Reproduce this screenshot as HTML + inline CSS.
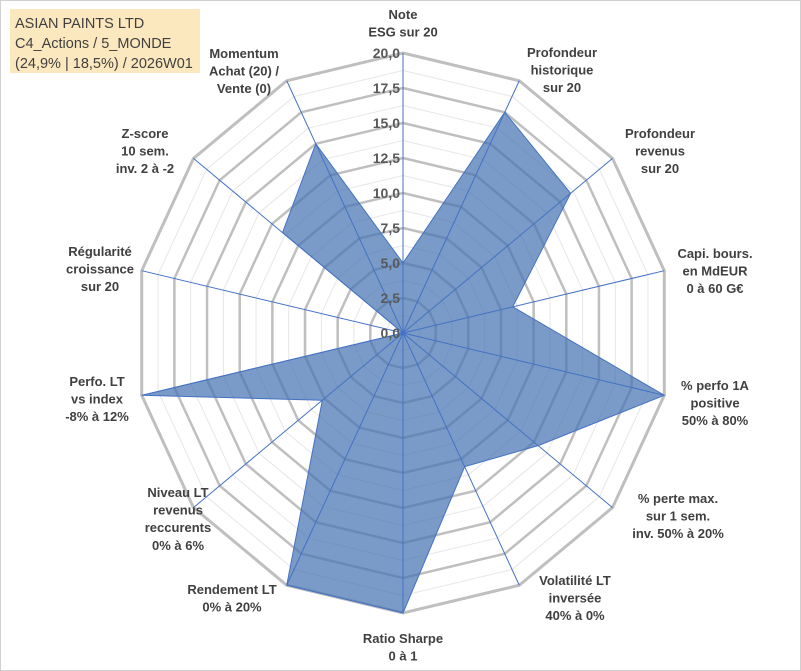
<!DOCTYPE html>
<html><head><meta charset="utf-8"><style>
body{margin:0;background:#fff}
svg{display:block;font-family:"Liberation Sans",sans-serif}
.lab{font-weight:bold;font-size:13px;fill:#404040;text-anchor:middle}
.tick{font-weight:bold;font-size:14px;fill:#595959;text-anchor:end}
</style></head><body>
<svg width="801" height="671">
<rect x="0.5" y="0.5" width="800" height="670" fill="#fff" stroke="#d0d0d0"/>
<rect x="10" y="9" width="190" height="64" fill="#fce8bf"/>
<text x="15" y="28" font-size="14.5" fill="#404040">ASIAN PAINTS LTD</text>
<text x="15" y="48" font-size="14.5" fill="#404040">C4_Actions / 5_MONDE</text>
<text x="15" y="68" font-size="14.5" fill="#404040">(24,9% | 18,5%) / 2026W01</text>
<g id="grid"></g><g id="series"></g><g id="axes"></g><g id="ticks"></g><g id="labels"></g>
</svg>
<script>
const categories=[["Note","ESG sur 20"],["Profondeur","historique","sur 20"],["Profondeur","revenus","sur 20"],["Capi. bours.","en MdEUR","0 à 60 G€"],["% perfo 1A","positive","50% à 80%"],["% perte max.","sur 1 sem.","inv. 50% à 20%"],["Volatilité LT","inversée","40% à 0%"],["Ratio Sharpe","0 à 1"],["Rendement LT","0% à 20%"],["Niveau LT","revenus","reccurents","0% à 6%"],["Perfo. LT","vs index","-8% à 12%"],["Régularité","croissance","sur 20"],["Z-score","10 sem.","inv. 2 à -2"],["Momentum","Achat (20) /","Vente (0)"]];
const values=[5,17.5,16,8.4,20,12.9,10.6,20,20,7.7,20,0,11.5,15];
const tickLabels=["0,0","2,5","5,0","7,5","10,0","12,5","15,0","17,5","20,0"];
const labelPos=[[403,14],[562,52],[660,133],[715,253],[715,385],[678,498],[575,580],[403,638],[232,589],[178,492],[97,381],[100,251],[145,133],[244,53]];
const cx=403,cy=333,RX=268,RY=280,MAX=20,N=categories.length;
const NS="http://www.w3.org/2000/svg";
function ang(i){return i*2*Math.PI/N;}
function pt(i,v){const r=v/MAX;return [cx+RX*r*Math.sin(ang(i)),cy-RY*r*Math.cos(ang(i))];}
function mk(tag,at,parent){const e=document.createElementNS(NS,tag);for(const k in at)e.setAttribute(k,at[k]);document.getElementById(parent).appendChild(e);return e;}
for(let k=1;k<=16;k++){const v=k*1.25;const pts=[];for(let i=0;i<N;i++)pts.push(pt(i,v).join(","));
 const major=k%2===0;
 const e=mk("polygon",{points:pts.join(" "),fill:"none",stroke:major?"#bfbfbf":"#e6e6e6","stroke-width":major?(k===16?3:2.5):1},"grid");
 
 }
const sp=values.map((v,i)=>pt(i,v).join(",")).join(" ");
const poly=mk("polygon",{points:sp,fill:"rgb(70,115,178)","fill-opacity":"0.72",stroke:"#4472c4","stroke-width":1},"series");


for(let i=0;i<N;i++){const p=pt(i,MAX);const e=mk("line",{x1:cx,y1:cy,x2:p[0],y2:p[1],stroke:"#4472c4","stroke-width":1},"axes");
 
 }
tickLabels.forEach((t,k)=>{const y=cy-RY*(k*2.5)/MAX;const e=mk("text",{x:cx-3,y:y+5,class:"tick"},"ticks");e.textContent=t;
 
 });
categories.forEach((lines,i)=>{const [x,y]=labelPos[i];const t=mk("text",{class:"lab"},"labels");
 
 
 lines.forEach((s,j)=>{const ts=document.createElementNS(NS,"tspan");ts.setAttribute("x",x);ts.setAttribute("y",y+5+j*17.6);ts.textContent=s;t.appendChild(ts);});});
</script>
</body></html>
